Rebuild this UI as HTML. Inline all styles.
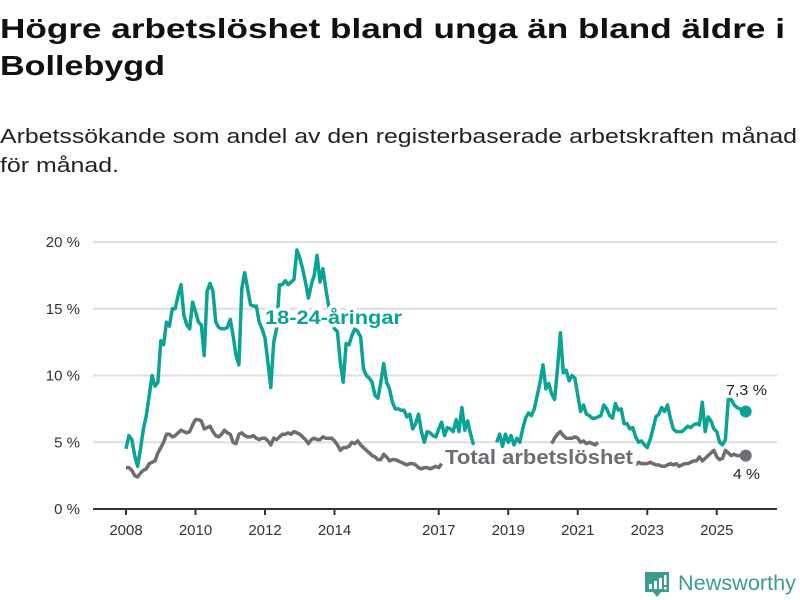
<!DOCTYPE html>
<html><head><meta charset="utf-8"><style>
html,body{margin:0;padding:0;background:#fff;}
svg{display:block;font-family:"Liberation Sans","DejaVu Sans",sans-serif;}
</style></head><body>
<svg id="chart" width="800" height="600" viewBox="0 0 800 600" xmlns="http://www.w3.org/2000/svg">
<text x="0" y="38" font-size="28" font-weight="bold" fill="#111" textLength="785" lengthAdjust="spacingAndGlyphs">Högre arbetslöshet bland unga än bland äldre i</text>
<text x="0" y="75" font-size="28" font-weight="bold" fill="#111" textLength="165" lengthAdjust="spacingAndGlyphs">Bollebygd</text>
<text x="0" y="143" font-size="20" fill="#222" textLength="797" lengthAdjust="spacingAndGlyphs">Arbetssökande som andel av den registerbaserade arbetskraften månad</text>
<text x="0" y="172" font-size="20" fill="#222" textLength="119" lengthAdjust="spacingAndGlyphs">för månad.</text>
<g id="grid"></g>
<g id="yaxis"></g>
<g id="xaxis"></g>
<g id="series"></g>
<g id="labels"></g>
<g>
<path d="M645 572h24v20h-8l-4 5-4-5h-8z" fill="#3d9c90"/>
<rect x="649" y="584" width="3" height="5" fill="#fff"/><rect x="654" y="581" width="3" height="8" fill="#fff"/><rect x="659" y="578" width="3" height="11" fill="#fff"/><rect x="664" y="575" width="2.5" height="10" fill="#fff"/><rect x="664" y="587" width="2.5" height="2.5" fill="#fff"/>
<text x="678" y="590" font-size="21" fill="#3d9c90" textLength="118" lengthAdjust="spacingAndGlyphs">Newsworthy</text>
</g>
</svg>
<script>
const startYear = 2008;
const youth = [
4.5,5.5,5.2,4.0,3.2,4.5,6.0,7.0,8.5,10.0,9.2,9.5,
12.6,12.3,14.0,13.7,15.0,15.0,16.0,16.8,14.5,13.8,13.5,15.5,
14.8,14.0,13.8,11.5,16.3,16.9,16.3,14.0,13.6,13.5,13.5,13.6,
14.2,13.0,11.5,10.8,16.5,17.7,16.5,15.3,15.2,15.2,14.0,13.5,
12.8,11.0,9.1,12.5,13.5,16.8,16.8,17.1,16.8,17.0,17.2,19.4,
18.8,18.0,17.0,15.8,16.8,17.5,19.0,17.0,18.0,16.5,15.2,14.0,
13.5,13.3,11.0,9.5,12.4,12.3,13.0,13.5,13.3,12.9,10.5,10.0,
9.8,9.5,8.5,8.3,9.5,10.9,9.5,9.0,8.0,7.5,7.5,7.4,
7.4,6.9,7.1,6.0,6.4,7.1,5.8,5.0,5.8,5.7,5.5,5.4,
6.0,6.5,5.5,6.1,6.0,5.8,6.7,5.8,7.6,5.9,6.6,5.6,
4.8,null,null,null,null,null,null,null,5.0,5.6,4.7,5.6,
5.0,5.5,4.8,5.3,5.0,6.0,6.8,7.2,7.0,7.5,8.5,9.5,
10.8,9.0,9.4,8.6,8.2,10.5,13.2,10.2,10.4,9.6,10.0,9.8,
8.5,7.3,7.8,7.1,7.0,6.8,6.8,6.9,7.0,7.8,7.5,7.0,
6.8,7.9,7.4,7.5,6.4,6.4,6.0,6.1,5.4,5.0,5.1,4.8,
4.6,5.2,6.0,6.9,7.1,7.6,7.3,7.8,6.8,6.0,5.8,5.8,
5.8,6.0,6.2,6.1,6.3,6.4,6.3,8.0,5.8,6.9,6.6,6.0,
5.8,5.0,4.8,5.2,8.2,8.2,7.8,7.6,7.5,7.4,7.3];
const total = [
3.1,3.1,2.9,2.5,2.4,2.7,2.9,3.0,3.4,3.5,3.6,4.2,
4.6,5.0,5.6,5.6,5.4,5.5,5.7,5.9,5.8,5.7,5.8,6.3,
6.7,6.7,6.6,6.0,6.1,6.2,5.8,5.5,5.4,5.6,5.9,5.7,
5.6,5.0,4.9,5.6,5.7,5.5,5.4,5.4,5.5,5.3,5.2,5.3,
5.3,5.1,4.8,5.3,5.2,5.4,5.6,5.6,5.7,5.6,5.8,5.7,
5.6,5.4,5.2,4.9,5.2,5.3,5.2,5.2,5.4,5.3,5.3,5.3,
5.1,4.8,4.4,4.6,4.6,4.7,5.0,4.9,5.1,4.8,4.6,4.4,
4.2,4.0,3.9,3.7,3.7,4.1,3.9,3.6,3.7,3.7,3.6,3.5,
3.4,3.3,3.4,3.4,3.3,3.1,3.0,3.1,3.1,3.0,3.1,3.2,
3.1,3.4,null,null,null,null,null,null,null,null,null,null,
null,null,null,null,null,null,null,null,null,null,null,null,
null,null,null,null,null,null,null,null,null,null,null,null,
null,null,null,4.9,5.3,5.6,5.8,5.5,5.3,5.3,5.3,5.4,
5.3,5.0,5.1,4.9,5.0,4.9,4.8,5.0,null,null,null,null,
null,null,null,null,null,null,null,null,3.3,3.5,3.4,3.4,
3.4,3.5,3.4,3.3,3.3,3.2,3.2,3.3,3.4,3.3,3.4,3.2,
3.3,3.4,3.4,3.5,3.6,3.6,3.9,3.6,3.8,4.0,4.2,4.4,
3.9,3.7,3.8,4.4,4.2,4.0,4.1,4.0,4.0,4.0,4.0];
const yTicks = [0,5,10,15,20];
const yTickLabels = ["0 %","5 %","10 %","15 %","20 %"];
const xTicks = [2008,2010,2012,2014,2017,2019,2021,2023,2025];

const NS="http://www.w3.org/2000/svg";
const X0=126, PXY=34.75, Y0=509, PXV=13.35, L=93, R=777;
const xs = y => X0 + (y-startYear)*PXY;
const xm = i => xs(startYear + i/12);
const ys = v => Y0 - v*PXV;
function mk(tag, attrs, parent){const e=document.createElementNS(NS,tag);for(const k in attrs)e.setAttribute(k,attrs[k]);parent.appendChild(e);return e;}
const grid=document.getElementById('grid'), yax=document.getElementById('yaxis'), xax=document.getElementById('xaxis');
yTicks.forEach((t,i)=>{
  if(t>0){const g=mk('line',{x1:L,x2:R,y1:ys(t),y2:ys(t),stroke:'#dedede','stroke-width':2},grid);
  
  }
  const tx=mk('text',{x:80,y:ys(t)+5,'text-anchor':'end','font-size':15,fill:'#333'},yax);
  tx.textContent=yTickLabels[i];
  
  
});
const base=mk('line',{x1:L,x2:R,y1:Y0,y2:Y0,stroke:'#333','stroke-width':2},xax);


xTicks.forEach(t=>{
  mk('line',{x1:xs(t),x2:xs(t),y1:Y0,y2:Y0+6,stroke:'#333','stroke-width':2},xax);
  const tx=mk('text',{x:xs(t),y:535,'text-anchor':'middle','font-size':15,fill:'#333'},xax);
  tx.textContent=t;
  
  
});
function pathFor(arr){let d='',pen=false;arr.forEach((v,i)=>{if(v===null){pen=false;return;}d+=(pen?'L':'M')+xm(i).toFixed(1)+' '+ys(v).toFixed(1);pen=true;});return d;}
const ser=document.getElementById('series');
const pt=mk('path',{d:pathFor(total),fill:'none',stroke:'#6d6d73','stroke-width':3.5,'stroke-linejoin':'round'},ser);


const py=mk('path',{d:pathFor(youth),fill:'none',stroke:'#0aa396','stroke-width':3.5,'stroke-linejoin':'round'},ser);


const li=total.length-1, lj=youth.length-1;
const dt=mk('circle',{cx:xm(li),cy:ys(total[li]),r:6,fill:'#6d6d73'},ser);


const dy=mk('circle',{cx:xm(lj),cy:ys(youth[lj]),r:6,fill:'#0aa396'},ser);


const lab=document.getElementById('labels');
function label(txt,x,y,size,fill,bold,w,name){
  const t=mk('text',{x:x,y:y,'font-size':size,fill:fill,'font-weight':bold?'bold':'normal',stroke:'#fff','stroke-width':bold?7:5,'paint-order':'stroke','stroke-linejoin':'round'},lab);
  if(w){t.setAttribute('textLength',w);t.setAttribute('lengthAdjust','spacingAndGlyphs');}
  t.textContent=txt;
  
  
}
label('18-24-åringar',265,324,19,'#0aa396',true,137,'youth-series-label');
label('Total arbetslöshet',445,464,20,'#6d6d73',true,188,'total-series-label');
label(youth[lj].toString().replace('.',',')+' %',726,395,15,'#222',false,41,'youth-end-value');
label(total[li].toString().replace('.',',')+' %',733,479,15,'#222',false,27,'total-end-value');
</script>
</body></html>
